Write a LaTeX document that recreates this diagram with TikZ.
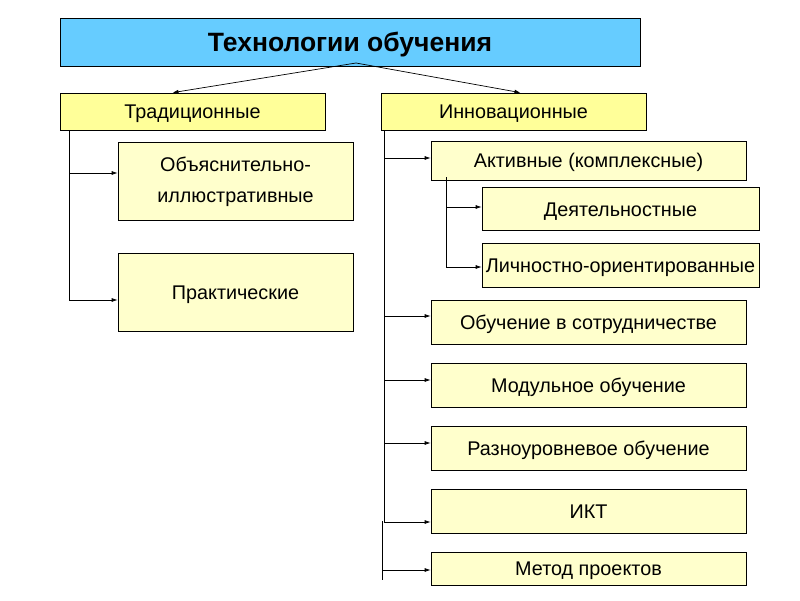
\documentclass[tikz,border=0pt]{standalone}
\usepackage{fontspec}
\setmainfont{Liberation Sans}
\usetikzlibrary{arrows.meta}
\definecolor{titleblue}{HTML}{66CCFF}
\definecolor{mainyellow}{HTML}{FFFF99}
\definecolor{paleyellow}{HTML}{FFFFCC}

\begin{document}
\begin{tikzpicture}[x=1pt, y=-1pt,
  box/.style={draw=black, line width=0.7pt, fill=paleyellow, inner sep=0pt,
    align=center, text height=14.2pt, text depth=0pt, font=\fontsize{19.8}{24}\selectfont},
  arr/.style={line width=0.7pt, -{Latex[length=6pt, width=4pt]}}]
\useasboundingbox (0,0) rectangle (800,600);
\node [box, fill=titleblue, minimum width=580pt, minimum height=48pt, text height=19pt,
  font=\fontsize{26.5}{30}\selectfont\bfseries] (tech) at (350,42) {Технологии обучения};
\node [box, fill=mainyellow, minimum width=265pt, minimum height=37pt] (trad) at (192.5,111.5) {Традиционные};
\node [box, fill=mainyellow, minimum width=265pt, minimum height=37pt] (innov) at (513.5,111.5) {Инновационные};
\node [box, text height=, text depth=, minimum width=235pt, minimum height=78pt,
  font=\fontsize{19.8}{31}\selectfont] (expl) at (235.5,181.5) {Объяснительно-\\иллюстративные};
\node [box, minimum width=235pt, minimum height=78pt] (pract) at (235.5,292) {Практические};
\node [box, minimum width=315pt, minimum height=39pt] (activ) at (588.5,160.5) {Активные (комплексные)};
\node [box, minimum width=277pt, minimum height=43pt] (deyat) at (620.5,209) {Деятельностные};
\node [box, minimum width=277pt, minimum height=44pt] (lichn) at (620.5,265.5) {Личностно-ориентированные};
\node [box, minimum width=315pt, minimum height=44pt] (sotr) at (588.5,322) {Обучение в сотрудничестве};
\node [box, minimum width=315pt, minimum height=44pt] (modul) at (588.5,385) {Модульное обучение};
\node [box, minimum width=315pt, minimum height=44pt] (razno) at (588.5,448) {Разноуровневое обучение};
\node [box, minimum width=315pt, minimum height=44pt] (ikt) at (588.5,511) {ИКТ};
\node [box, minimum width=315pt, minimum height=33pt] (metod) at (588.5,568.5) {Метод проектов};

\coordinate (apex) at (356,63);
\coordinate (split) at (382,521);
\draw [arr] (apex) -- ([xshift=-20pt]trad.north);
\draw [arr] (apex) -- ([xshift=7pt]innov.north);
% traditional branch
\draw [arr] ([xshift=10pt]trad.south west) |- ([yshift=8.5pt]expl.west);
\draw [arr] ([xshift=10pt]trad.south west) |- ([yshift=-8pt]pract.west);
% innovative branch
\draw [arr] ([xshift=4pt]innov.south west) |- ([yshift=2.5pt]activ.west);
\draw [arr] ([xshift=4pt]innov.south west) |- ([yshift=6pt]sotr.west);
\draw [arr] ([xshift=4pt]innov.south west) |- ([yshift=5pt]modul.west);
\draw [arr] ([xshift=4pt]innov.south west) |- ([yshift=5pt]razno.west);
\draw [arr] ([xshift=4pt]innov.south west) |- ([yshift=-11pt]ikt.west);
\draw [line width=0.7pt] (split) -- ++(0,59);
\draw [arr] (split) |- ([yshift=-1.5pt]metod.west);
% active sub-branch
\draw [arr] ([xshift=16pt, yshift=3pt]activ.south west) |- ([yshift=2pt]deyat.west);
\draw [arr] ([xshift=16pt, yshift=3pt]activ.south west) |- ([yshift=-1.5pt]lichn.west);
\end{tikzpicture}
\end{document}
